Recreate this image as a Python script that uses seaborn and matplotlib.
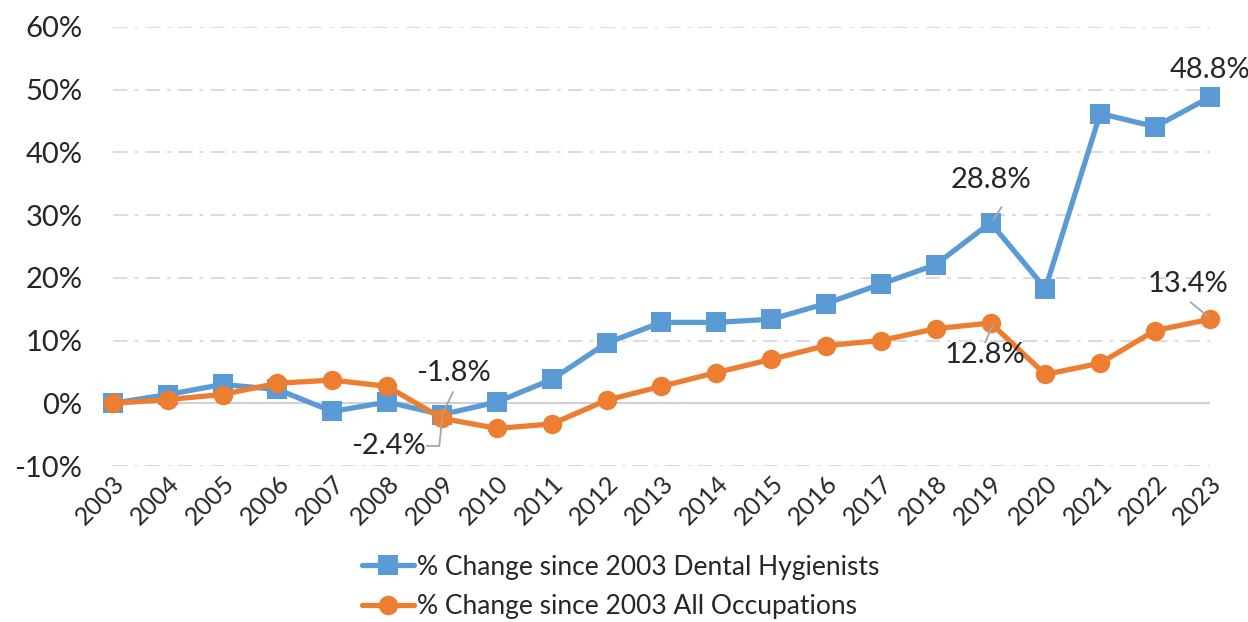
import pandas as pd
import seaborn as sns
import matplotlib.pyplot as plt
from matplotlib.ticker import PercentFormatter
from matplotlib.lines import Line2D

years = list(range(2003, 2024))
hygienists = [0.0, 1.4, 3.0, 2.2, -1.3, 0.2, -1.8, 0.2, 3.8, 9.6, 12.9,
              12.9, 13.4, 15.9, 19.0, 22.1, 28.8, 18.3, 46.2, 44.1, 48.8]
all_occ = [0.0, 0.6, 1.4, 3.2, 3.7, 2.7, -2.4, -4.0, -3.3, 0.5, 2.7,
           4.9, 7.0, 9.2, 10.0, 11.9, 12.8, 4.6, 6.4, 11.6, 13.4]
label_h = '% Change since 2003 Dental Hygienists'
label_o = '% Change since 2003 All Occupations'
blue = '#5B9BD5'
orange = '#ED7D31'

df = pd.concat([
    pd.DataFrame({'year': years, 'value': hygienists, 'series': label_h}),
    pd.DataFrame({'year': years, 'value': all_occ, 'series': label_o}),
])

sns.set_style('white')
plt.rcParams['font.family'] = ['Lato', 'DejaVu Sans']
plt.rcParams['axes.unicode_minus'] = False

fig = plt.figure(figsize=(12.48, 6.22), dpi=100)
ax = fig.add_axes([0.0905, 0.2508, 0.879, 0.7058])

sns.lineplot(data=df, x='year', y='value', hue='series', style='series',
             palette={label_h: blue, label_o: orange},
             markers={label_h: 's', label_o: 'o'}, dashes=False,
             linewidth=3.8, markersize=14, markeredgewidth=0,
             legend=False, ax=ax, clip_on=False, zorder=3)

ax.set_xlim(2003, 2023)
ax.set_ylim(-10, 60)
ax.set_yticks(range(-10, 61, 10))
ax.yaxis.set_major_formatter(PercentFormatter(decimals=0))
ax.set_xticks(years)
ax.set_xticklabels([str(y) for y in years], rotation=45, ha='right',
                   rotation_mode='anchor', fontsize=18)
ax.tick_params(axis='y', labelsize=21, pad=22, length=0)
ax.tick_params(axis='x', pad=4, length=0)
ax.set_xlabel('')
ax.set_ylabel('')

for v in range(-10, 61, 10):
    if v == 0:
        ax.axhline(0, color='#D0D0D0', lw=1.5, zorder=1)
    else:
        ax.axhline(v, color='#D9D9D9', lw=1.3, dashes=(8, 4, 2, 4), zorder=1)

for s in ax.spines.values():
    s.set_visible(False)

lc = '#A6A6A6'
fs = 21
ax.text(2019, 33.5, '28.8%', ha='center', va='bottom', fontsize=fs)
ax.plot([2019.05, 2019.2], [29.2, 31.3], color=lc, lw=1.3, zorder=4)
ax.text(2023, 51, '48.8%', ha='center', va='bottom', fontsize=fs)
ax.text(2022.6, 17.0, '13.4%', ha='center', va='bottom', fontsize=fs)
ax.plot([2022.65, 2023], [16.1, 13.6], color=lc, lw=1.3, zorder=4)
ax.text(2018.9, 9.8, '12.8%', ha='center', va='top', fontsize=fs)
ax.plot([2019.05, 2018.9], [12.6, 9.7], color=lc, lw=1.3, zorder=4)
ax.text(2009.2, 2.8, '-1.8%', ha='center', va='bottom', fontsize=fs)
ax.plot([2009.2, 2009.0], [1.8, -1.8], color=lc, lw=1.3, zorder=4)
ax.text(2008.7, -6.8, '-2.4%', ha='right', va='center', fontsize=fs)
ax.plot([2008.72, 2008.95, 2009.0], [-6.8, -6.8, -2.4], color=lc, lw=1.3, zorder=4)

handles = [
    Line2D([], [], color=blue, lw=3.8, marker='s', markersize=14, markeredgewidth=0),
    Line2D([], [], color=orange, lw=3.8, marker='o', markersize=14, markeredgewidth=0),
]
fig.legend(handles, [label_h, label_o], loc='lower left',
           bbox_to_anchor=(0.275, -0.025), frameon=False, fontsize=19,
           handlelength=2.0, handletextpad=0.1, labelspacing=0.55,
           borderpad=0.2)

fig.savefig('out.png', dpi=100)
